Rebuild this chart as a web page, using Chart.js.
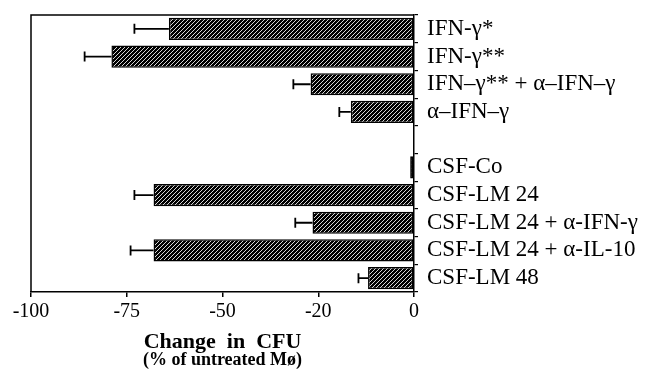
<!DOCTYPE html>
<html>
<head>
<meta charset="utf-8">
<script src="https://cdn.jsdelivr.net/npm/chart.js@4.4.0/dist/chart.umd.min.js"></script>
<style>
  html, body { margin: 0; padding: 0; background: #fff; }
  #wrap { width: 645px; height: 373px; }
</style>
</head>
<body>
<div id="wrap"><canvas id="chart" width="645" height="373"></canvas></div>
<script>
// categories (empty slot between the IFN group and the CSF group)
const categories = [
  'IFN-γ*',
  'IFN-γ**',
  'IFN–γ** + α–IFN–γ',
  'α–IFN–γ',
  '',
  'CSF-Co',
  'CSF-LM 24',
  'CSF-LM 24 + α-IFN-γ',
  'CSF-LM 24 + α-IL-10',
  'CSF-LM 48'
];
const changeCFU = [-64, -79, -27, -16.5, null, -1, -68, -26.5, -68, -12];
const errors    = [9, 7, 4.5, 3, null, 0, 5, 4.5, 6, 2.5];

// tick values and the labels printed under them (as in the original figure)
const tickValues = [-100, -75, -50, -25, 0];
const tickLabels = ['-100', '-75', '-50', '-20', '0'];

const titleLine1 = 'Change  in  CFU';
const titleLine2 = '(% of untreated Mø)';

function hatch() {
  const p = 4;
  const c = document.createElement('canvas');
  c.width = p; c.height = p;
  const g = c.getContext('2d');
  g.fillStyle = '#000';
  g.fillRect(0, 0, p, p);
  g.strokeStyle = '#fff';
  g.lineWidth = 0.85;
  g.beginPath();
  g.moveTo(0, p); g.lineTo(p, 0);
  g.moveTo(-1, 1); g.lineTo(1, -1);
  g.moveTo(p - 1, p + 1); g.lineTo(p + 1, p - 1);
  g.stroke();
  return document.getElementById('chart').getContext('2d').createPattern(c, 'repeat');
}

const frameAndExtras = {
  id: 'frameAndExtras',
  beforeDraw(chart) {
    const ctx = chart.ctx;
    ctx.save();
    ctx.fillStyle = '#fff';
    ctx.fillRect(0, 0, chart.width, chart.height);
    ctx.restore();
  },
  afterDatasetsDraw(chart) {
    const ctx = chart.ctx;
    const xs = chart.scales.x, ys = chart.scales.y;
    const a = chart.chartArea;
    ctx.save();
    // top and left frame
    ctx.strokeStyle = '#000';
    ctx.lineWidth = 1.5;
    ctx.beginPath();
    ctx.moveTo(a.left, a.bottom);
    ctx.lineTo(a.left, a.top);
    ctx.lineTo(a.right, a.top);
    ctx.stroke();
    // error bars
    ctx.lineWidth = 1.8;
    changeCFU.forEach((v, i) => {
      if (v === null || !errors[i]) return;
      const x0 = xs.getPixelForValue(v);
      const x1 = xs.getPixelForValue(v - errors[i]);
      const y = ys.getPixelForValue(i);
      ctx.beginPath();
      ctx.moveTo(x0, y); ctx.lineTo(x1, y);
      ctx.moveTo(x1, y - 5); ctx.lineTo(x1, y + 5);
      ctx.stroke();
    });
    // axis title
    const cx = (a.left + a.right) / 2;
    ctx.fillStyle = '#000';
    ctx.textAlign = 'center';
    ctx.textBaseline = 'middle';
    ctx.font = 'bold 22px "Liberation Serif"';
    ctx.fillText(titleLine1, cx, 342);
    ctx.font = 'bold 18px "Liberation Serif"';
    ctx.fillText(titleLine2, cx, 360);
    ctx.restore();
  }
};

new Chart(document.getElementById('chart'), {
  type: 'bar',
  data: {
    labels: categories,
    datasets: [{
      data: changeCFU,
      backgroundColor: hatch(),
      borderColor: '#000',
      borderWidth: 1.5,
      borderSkipped: false,
      barPercentage: 0.8,
      categoryPercentage: 1
    }]
  },
  options: {
    indexAxis: 'y',
    responsive: false,
    animation: false,
    layout: { padding: { left: 31, top: 15, right: 0, bottom: 0 } },
    plugins: { legend: { display: false }, tooltip: { enabled: false } },
    scales: {
      x: {
        min: -100,
        max: 0,
        afterBuildTicks: s => { s.ticks = tickValues.map(v => ({ value: v })); },
        afterFit: s => { s.height = 81; },
        border: { display: true, color: '#000', width: 1.5 },
        grid: { drawOnChartArea: false, color: '#000', tickLength: 5, lineWidth: 1.5 },
        ticks: {
          color: '#000',
          padding: 3,
          maxRotation: 0,
          font: { family: 'Liberation Serif', size: 20 },
          callback: (v, i) => tickLabels[i]
        }
      },
      y: {
        position: 'right',
        afterFit: s => { s.width = 231; s.paddingTop = 0; s.paddingBottom = 0; },
        border: { display: true, color: '#000', width: 1.5 },
        grid: { drawOnChartArea: false, color: '#000', tickLength: 4, lineWidth: 1.2 },
        ticks: {
          color: '#000',
          padding: 9,
          autoSkip: false,
          font: { family: 'Liberation Serif', size: 23 }
        }
      }
    }
  },
  plugins: [frameAndExtras]
});
</script>
</body>
</html>
